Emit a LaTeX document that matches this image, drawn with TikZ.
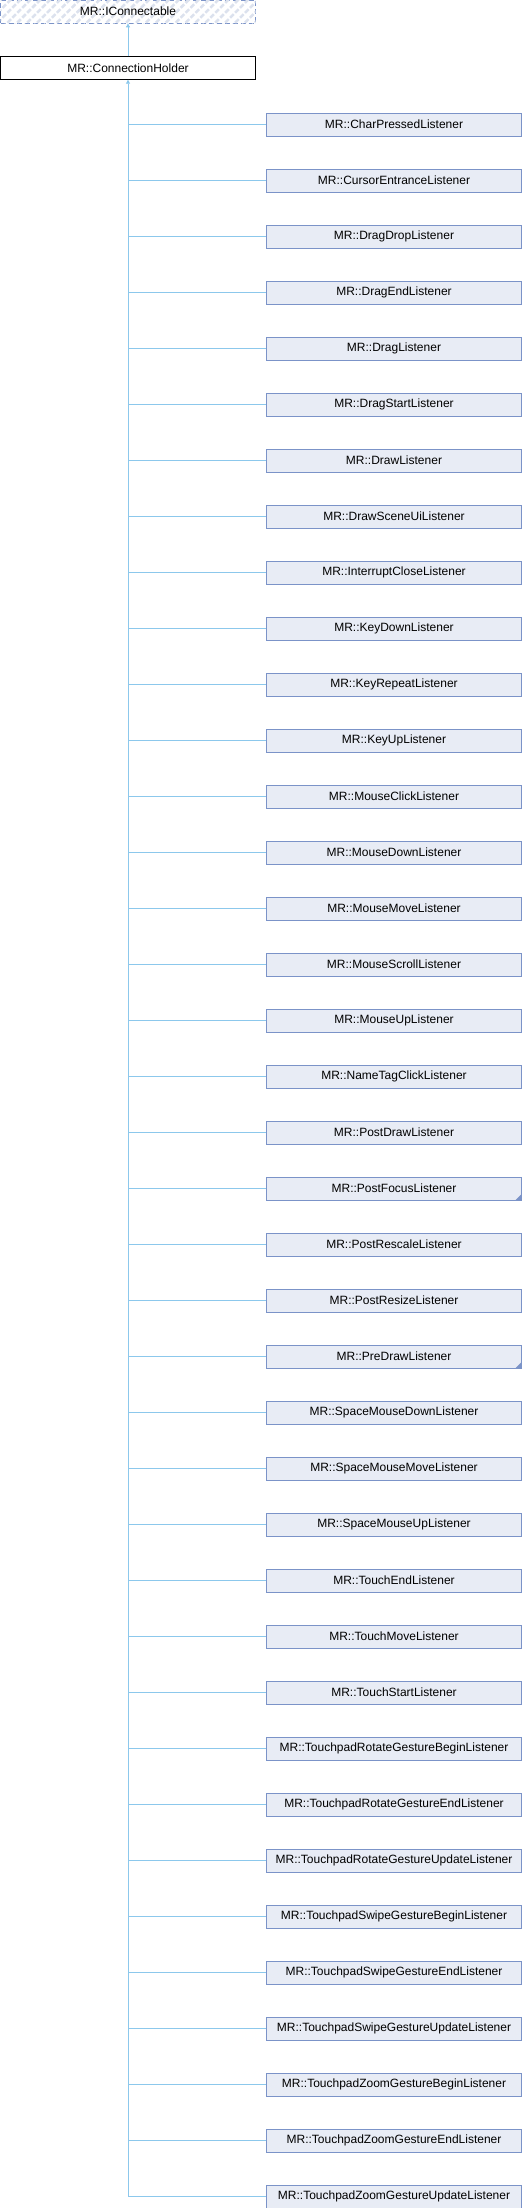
\documentclass[tikz,border=0pt]{standalone}
\usepackage{fontspec}
\setmainfont{Liberation Sans}
\usepackage{tikz}
\usetikzlibrary{arrows.meta,patterns.meta}
\definecolor{boxline}{HTML}{7B93C8}
\definecolor{boxfill}{HTML}{E8ECF5}
\definecolor{edgeblue}{HTML}{8CC8EC}
\definecolor{hatch}{HTML}{DCE2EE}
\tikzset{
  cls/.style={draw=boxline,fill=boxfill,minimum width=255pt,minimum height=23pt,inner sep=0pt,font=\fontsize{12}{14}\selectfont},
  undoc/.style={cls,dashed,dash pattern=on 5pt off 3pt,fill=white,postaction={pattern={Lines[angle=45,distance=7pt,line width=2.5pt]},pattern color=hatch}},
  base/.style={cls,draw=black,fill=white},
  edge/.style={draw=edgeblue,line width=0.8pt},
  inh/.style={edge,-{Triangle[width=4pt,length=4pt]}},
  more/.style={fill=boxline}
}
\newcommand{\cornertri}[1]{\fill[more] (#1.south east) -- ++(0,-6) -- ++(-6,6) -- cycle;}

\begin{document}
\begin{tikzpicture}[x=1pt,y=-1pt]
  \useasboundingbox (0,0) rectangle (522,2208);
  % base classes
  \node[undoc] (ifc) at (128,11.7) {MR::IConnectable};
  \node[base] (hold) at (128,68) {MR::ConnectionHolder};
  \draw[inh] (hold.north) -- (ifc.south);
  % derived listeners
  \node[cls] (c1) at (394,124.3) {MR::CharPressedListener};
  \node[cls] (c2) at (394,180.3) {MR::CursorEntranceListener};
  \node[cls] (c3) at (394,236.3) {MR::DragDropListener};
  \node[cls] (c4) at (394,292.3) {MR::DragEndListener};
  \node[cls] (c5) at (394,348.3) {MR::DragListener};
  \node[cls] (c6) at (394,404.3) {MR::DragStartListener};
  \node[cls] (c7) at (394,460.3) {MR::DrawListener};
  \node[cls] (c8) at (394,516.3) {MR::DrawSceneUiListener};
  \node[cls] (c9) at (394,572.3) {MR::InterruptCloseListener};
  \node[cls] (c10) at (394,628.3) {MR::KeyDownListener};
  \node[cls] (c11) at (394,684.3) {MR::KeyRepeatListener};
  \node[cls] (c12) at (394,740.3) {MR::KeyUpListener};
  \node[cls] (c13) at (394,796.3) {MR::MouseClickListener};
  \node[cls] (c14) at (394,852.3) {MR::MouseDownListener};
  \node[cls] (c15) at (394,908.3) {MR::MouseMoveListener};
  \node[cls] (c16) at (394,964.3) {MR::MouseScrollListener};
  \node[cls] (c17) at (394,1020.3) {MR::MouseUpListener};
  \node[cls] (c18) at (394,1076.3) {MR::NameTagClickListener};
  \node[cls] (c19) at (394,1132.3) {MR::PostDrawListener};
  \node[cls] (c20) at (394,1188.3) {MR::PostFocusListener};
  \node[cls] (c21) at (394,1244.3) {MR::PostRescaleListener};
  \node[cls] (c22) at (394,1300.3) {MR::PostResizeListener};
  \node[cls] (c23) at (394,1356.3) {MR::PreDrawListener};
  \node[cls] (c24) at (394,1412.3) {MR::SpaceMouseDownListener};
  \node[cls] (c25) at (394,1468.3) {MR::SpaceMouseMoveListener};
  \node[cls] (c26) at (394,1524.3) {MR::SpaceMouseUpListener};
  \node[cls] (c27) at (394,1580.3) {MR::TouchEndListener};
  \node[cls] (c28) at (394,1636.3) {MR::TouchMoveListener};
  \node[cls] (c29) at (394,1692.3) {MR::TouchStartListener};
  \node[cls] (c30) at (394,1748.3) {MR::TouchpadRotateGestureBeginListener};
  \node[cls] (c31) at (394,1804.3) {MR::TouchpadRotateGestureEndListener};
  \node[cls] (c32) at (394,1860.3) {MR::TouchpadRotateGestureUpdateListener};
  \node[cls] (c33) at (394,1916.3) {MR::TouchpadSwipeGestureBeginListener};
  \node[cls] (c34) at (394,1972.3) {MR::TouchpadSwipeGestureEndListener};
  \node[cls] (c35) at (394,2028.3) {MR::TouchpadSwipeGestureUpdateListener};
  \node[cls] (c36) at (394,2084.3) {MR::TouchpadZoomGestureBeginListener};
  \node[cls] (c37) at (394,2140.3) {MR::TouchpadZoomGestureEndListener};
  \node[cls] (c38) at (394,2196.3) {MR::TouchpadZoomGestureUpdateListener};
  \cornertri{c20}
  \cornertri{c23}
  % inheritance tree
  \coordinate (trunk) at (hold.south |- c38.west);
  \draw[inh] (trunk) -- (hold.south);
  \foreach \i in {1,...,38}
    \draw[edge] (c\i.west -| hold.south) -- (c\i.west);
\end{tikzpicture}
\end{document}
